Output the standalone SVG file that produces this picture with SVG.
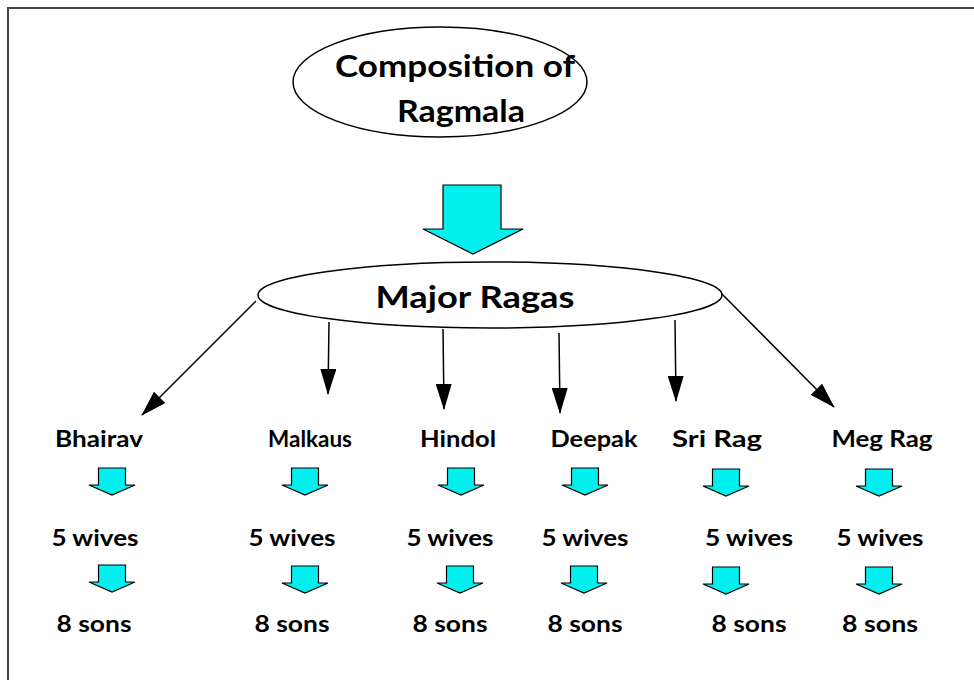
<svg xmlns="http://www.w3.org/2000/svg" width="974" height="680" viewBox="0 0 974 680">
  <defs>
    <style>
      .frame { stroke: #444; stroke-width: 2; fill: none; }
      .oval { fill: #fff; stroke: #000; stroke-width: 1.5; }
      .title { font-family: Lato, "Open Sans", "Liberation Sans", sans-serif; font-weight: bold; font-size: 30px; fill: #000; text-anchor: middle; }
      .lbl { font-family: Lato, "Open Sans", "Liberation Sans", sans-serif; font-weight: bold; font-size: 22px; fill: #000; text-anchor: middle; }
      .block { fill: #00F0F0; stroke: #000; stroke-width: 1.2; stroke-linejoin: miter; }
      .link { stroke: #000; stroke-width: 1.5; fill: none; marker-end: url(#head); }
    </style>
    <marker id="head" markerUnits="userSpaceOnUse" markerWidth="26" markerHeight="16" viewBox="0 0 26 16" refX="25" refY="8" orient="auto">
      <path d="M0,0 L26,8 L0,16 Z" fill="#000"/>
    </marker>
    <path id="down" d="M-13.5,0 H13.5 V17 H23 L0,27 L-23,17 H-13.5 Z"/>
  </defs>

  <rect width="974" height="680" fill="#fff"/>
  <!-- page frame: top and left rules -->
  <path class="frame" d="M8,680 V8 H974"/>

  <g id="composition">
    <ellipse class="oval" cx="440" cy="82" rx="147" ry="55"/>
    <text class="title" x="455" y="77" textLength="240" lengthAdjust="spacingAndGlyphs">Composition of</text>
    <text class="title" x="461" y="122" textLength="128" lengthAdjust="spacingAndGlyphs">Ragmala</text>
  </g>

  <g id="big-arrow">
    <path class="block" d="M443,185 H501 V229 H523 L473,254 L423,229 H443 Z"/>
  </g>

  <g id="major-ragas">
    <ellipse class="oval" cx="490" cy="295" rx="232" ry="33"/>
    <text class="title" x="475" y="308" textLength="199" lengthAdjust="spacingAndGlyphs">Major Ragas</text>
  </g>

  <g id="connectors">
    <line class="link" x1="256" y1="301" x2="142" y2="415"/>
    <line class="link" x1="329" y1="322" x2="328" y2="394"/>
    <line class="link" x1="443" y1="329" x2="444" y2="409"/>
    <line class="link" x1="559" y1="333" x2="560" y2="413"/>
    <line class="link" x1="675" y1="320" x2="676" y2="401"/>
    <line class="link" x1="722" y1="294" x2="834" y2="407"/>
  </g>

  <g id="bhairav">
    <text class="lbl" x="99" y="447" textLength="88" lengthAdjust="spacingAndGlyphs">Bhairav</text>
    <use href="#down" class="block" x="112" y="468"/>
    <text class="lbl" x="95" y="546" textLength="87" lengthAdjust="spacingAndGlyphs">5 wives</text>
    <use href="#down" class="block" x="112" y="565"/>
    <text class="lbl" x="94" y="632" textLength="75" lengthAdjust="spacingAndGlyphs">8 sons</text>
  </g>

  <g id="malkaus">
    <text class="lbl" x="310" y="447" textLength="84" lengthAdjust="spacingAndGlyphs">Malkaus</text>
    <use href="#down" class="block" x="305" y="468"/>
    <text class="lbl" x="292" y="546" textLength="87" lengthAdjust="spacingAndGlyphs">5 wives</text>
    <use href="#down" class="block" x="305" y="566"/>
    <text class="lbl" x="292" y="632" textLength="75" lengthAdjust="spacingAndGlyphs">8 sons</text>
  </g>

  <g id="hindol">
    <text class="lbl" x="458" y="447" textLength="76" lengthAdjust="spacingAndGlyphs">Hindol</text>
    <use href="#down" class="block" x="461" y="468"/>
    <text class="lbl" x="450" y="546" textLength="87" lengthAdjust="spacingAndGlyphs">5 wives</text>
    <use href="#down" class="block" x="460" y="566"/>
    <text class="lbl" x="450" y="632" textLength="75" lengthAdjust="spacingAndGlyphs">8 sons</text>
  </g>

  <g id="deepak">
    <text class="lbl" x="594" y="447" textLength="87" lengthAdjust="spacingAndGlyphs">Deepak</text>
    <use href="#down" class="block" x="585" y="468"/>
    <text class="lbl" x="585" y="546" textLength="87" lengthAdjust="spacingAndGlyphs">5 wives</text>
    <use href="#down" class="block" x="584" y="566"/>
    <text class="lbl" x="585" y="632" textLength="75" lengthAdjust="spacingAndGlyphs">8 sons</text>
  </g>

  <g id="sri-rag">
    <text class="lbl" x="717" y="447" textLength="90" lengthAdjust="spacingAndGlyphs">Sri Rag</text>
    <use href="#down" class="block" x="726" y="469"/>
    <text class="lbl" x="749" y="546" textLength="88" lengthAdjust="spacingAndGlyphs">5 wives</text>
    <use href="#down" class="block" x="726" y="567"/>
    <text class="lbl" x="749" y="632" textLength="75" lengthAdjust="spacingAndGlyphs">8 sons</text>
  </g>

  <g id="meg-rag">
    <text class="lbl" x="882" y="447" textLength="101" lengthAdjust="spacingAndGlyphs">Meg Rag</text>
    <use href="#down" class="block" x="879" y="469"/>
    <text class="lbl" x="880" y="546" textLength="87" lengthAdjust="spacingAndGlyphs">5 wives</text>
    <use href="#down" class="block" x="879" y="567"/>
    <text class="lbl" x="880" y="632" textLength="76" lengthAdjust="spacingAndGlyphs">8 sons</text>
  </g>
</svg>
